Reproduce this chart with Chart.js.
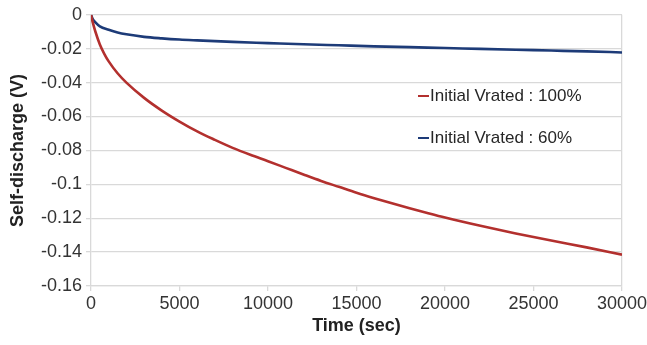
<!DOCTYPE html>
<html>
<head>
<meta charset="utf-8">
<script src="https://cdn.jsdelivr.net/npm/chart.js@4"></script>
<style>
    html, body { margin: 0; padding: 0; background: #fff; }
</style>
</head>
<body>
<canvas id="chart" width="647" height="345"></canvas>
<script>
// values
const timesFull = [0, 100, 250, 500, 750, 1000, 1500, 2000, 3000, 4000, 5000, 6000, 7000, 8000, 9000, 10000,
    11000, 12000, 13000, 14000, 15000, 16000, 17000, 18000, 19000, 20000, 22000, 24000, 26000, 28000, 30000];
const vrated100 = [0, -0.0045, -0.010, -0.0175, -0.023, -0.0275, -0.0345, -0.040, -0.049, -0.0565, -0.063, -0.0688,
    -0.0738, -0.0785, -0.0826, -0.0864, -0.0903, -0.0942, -0.098, -0.1015, -0.105, -0.1082, -0.1112, -0.1141, -0.1169,
    -0.1196, -0.1245, -0.129, -0.1332, -0.1372, -0.1415];

const timesLow = [0, 100, 250, 500, 1000, 1500, 2000, 3000, 4000, 5000, 6000, 8000, 10000, 12000, 14000, 16000,
    18000, 20000, 22000, 24000, 26000, 28000, 30000];
const vrated60 = [0, -0.0025, -0.0045, -0.0068, -0.0088, -0.0104, -0.0115, -0.013, -0.0139, -0.0146, -0.0151,
    -0.016, -0.0167, -0.0174, -0.018, -0.0186, -0.0191, -0.0196, -0.0201, -0.0206, -0.0211, -0.0216, -0.0222];

const seriesLabels = ['Initial Vrated : 100%', 'Initial Vrated : 60%'];
const seriesColors = ['#b3302e', '#1d3b78'];

const xTicks = [0, 5000, 10000, 15000, 20000, 25000, 30000];
const yTicks = [0, -0.02, -0.04, -0.06, -0.08, -0.1, -0.12, -0.14, -0.16];

const gridGray = '#d9d9d9';
const font = 'Liberation Sans, Arial, sans-serif';

const toPoints = (xs, ys) => xs.map((x, i) => ({ x: x, y: ys[i] }));

// legend sits inside the plot, like the original
const insideLegend = {
    id: 'insideLegend',
    afterDatasetsDraw(chart) {
        const ctx = chart.ctx;
        const rows = [96, 138];
        ctx.save();
        ctx.font = '17px ' + font;
        ctx.textBaseline = 'middle';
        chart.data.datasets.forEach((ds, i) => {
            ctx.strokeStyle = ds.borderColor;
            ctx.lineWidth = 2;
            ctx.beginPath();
            ctx.moveTo(418, rows[i]);
            ctx.lineTo(429, rows[i]);
            ctx.stroke();
            ctx.fillStyle = '#262626';
            ctx.fillText(ds.label, 430, rows[i]);
        });
        ctx.restore();
    }
};

new Chart(document.getElementById('chart'), {
    type: 'line',
    data: {
        datasets: [
            { label: seriesLabels[0], data: toPoints(timesFull, vrated100), borderColor: seriesColors[0],
              borderWidth: 2.6, pointRadius: 0, cubicInterpolationMode: 'monotone' },
            { label: seriesLabels[1], data: toPoints(timesLow, vrated60), borderColor: seriesColors[1],
              borderWidth: 2.6, pointRadius: 0, cubicInterpolationMode: 'monotone' }
        ]
    },
    options: {
        responsive: false,
        animation: false,
        devicePixelRatio: 1,
        layout: { padding: { top: 11, right: 25, left: 0, bottom: 0 } },
        plugins: { legend: { display: false }, tooltip: { enabled: false } },
        scales: {
            x: {
                type: 'linear',
                min: 0, max: 30000,
                afterBuildTicks: (scale) => { scale.ticks = xTicks.map(v => ({ value: v })); },
                afterFit: (scale) => {
                    scale.height = 59;
                    scale.paddingLeft = 0;
                    scale.paddingRight = 0; // let "30000" run past the plot edge as in the original
                },
                grid: {
                    color: (c) => (c.tick && c.tick.value === 30000 ? gridGray : 'transparent'),
                    tickColor: gridGray,
                    tickLength: 5,
                    lineWidth: 1.3
                },
                border: { color: gridGray, width: 1.3 },
                ticks: { color: '#333', font: { family: font, size: 18 }, padding: 2, maxRotation: 0,
                         autoSkip: false, callback: (v) => String(v) },
                title: { display: true, text: 'Time (sec)', color: '#222',
                         font: { family: font, size: 18, weight: 'bold' }, padding: { top: 0, bottom: 8 } }
            },
            y: {
                min: -0.16, max: 0,
                afterBuildTicks: (scale) => { scale.ticks = yTicks.map(v => ({ value: v })); },
                afterFit: (scale) => { scale.width = 91; },
                grid: { color: gridGray, tickColor: gridGray, tickLength: 5, lineWidth: 1.3 },
                border: { color: gridGray, width: 1.3 },
                ticks: { color: '#333', font: { family: font, size: 18 }, padding: 4, autoSkip: false,
                         callback: (v) => String(Math.round(v * 100) / 100) },
                title: { display: true, text: 'Self-discharge (V)', color: '#222',
                         font: { family: font, size: 18, weight: 'bold' }, padding: { top: 7, bottom: 0 } }
            }
        }
    },
    plugins: [insideLegend]
});
</script>
</body>
</html>
